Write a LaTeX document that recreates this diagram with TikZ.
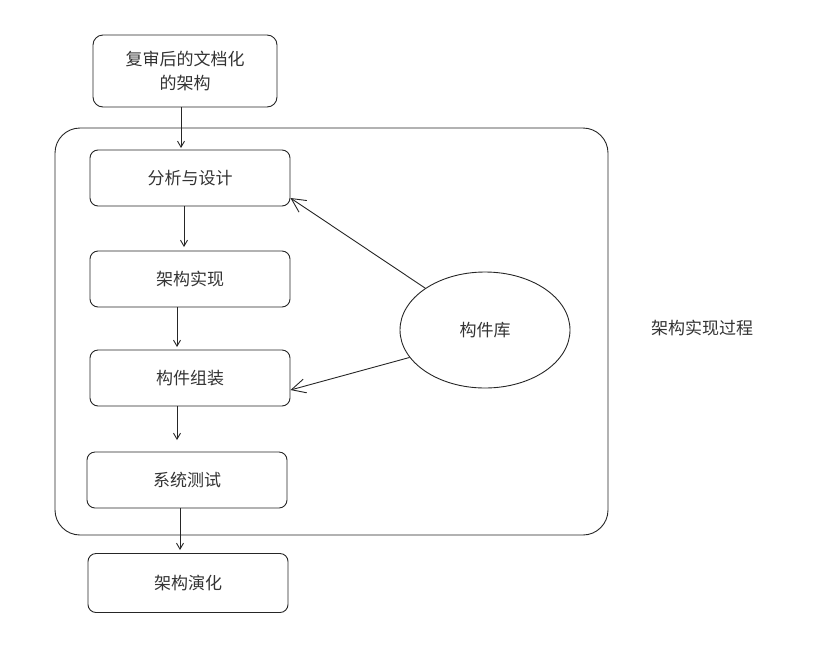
\documentclass[tikz,border=0pt]{standalone}
\usepackage{fontspec}
\newfontfamily\cjk{Noto Sans CJK SC}[Scale=1]
\usetikzlibrary{shapes.geometric,arrows.meta}
\begin{document}
\begin{tikzpicture}[x=1pt,y=-1pt,font=\cjk\fontsize{17}{24}\selectfont,
  box/.style={draw=black!85,line width=0.9pt,rounded corners=8pt,minimum width=200pt,minimum height=56pt,align=center,text=black!80},
  arr/.style={draw=black!85,line width=0.9pt,-{Straight Barb[length=6pt,width=7pt]}}]
\useasboundingbox (0,0) rectangle (813,651);
\node[draw=black!85,line width=0.9pt,rounded corners=25pt,minimum width=553pt,minimum height=407pt] (cont) at (331.5,331.5) {};
\node[box,minimum width=184pt,minimum height=72pt,rounded corners=10pt] (top) at (185,71) {复审后的文档化\\的架构};
\node[box] (a) at (190,178) {分析与设计};
\node[box] (b) at (190,279) {架构实现};
\node[box] (c) at (190,378) {构件组装};
\node[box] (d) at (187,480) {系统测试};
\node[box,minimum height=59pt] (e) at (188,583) {架构演化};
\node[draw=black!85,line width=0.9pt,ellipse,minimum width=170pt,minimum height=116pt,text=black!80] (lib) at (485,330) {构件库};
\node[text=black!80] (lbl) at (702,328) {架构实现过程};
\draw[arr] (top.south -| 181,0) -- (181,148);
\draw[arr] (a.south -| 184,0) -- (184,247);
\draw[arr] (b.south -| 177,0) -- (177,347);
\draw[arr] (c.south -| 177,0) -- (177,440);
\draw[arr] (d.south -| 180,0) -- (180,550);
\draw[arr,-{Straight Barb[length=14pt,width=14pt]}] (lib.145) -- (a.east |- 0,198);
\draw[arr,-{Straight Barb[length=14pt,width=14pt]}] (lib.200) -- (c.east |- 0,390);
\end{tikzpicture}
\end{document}
